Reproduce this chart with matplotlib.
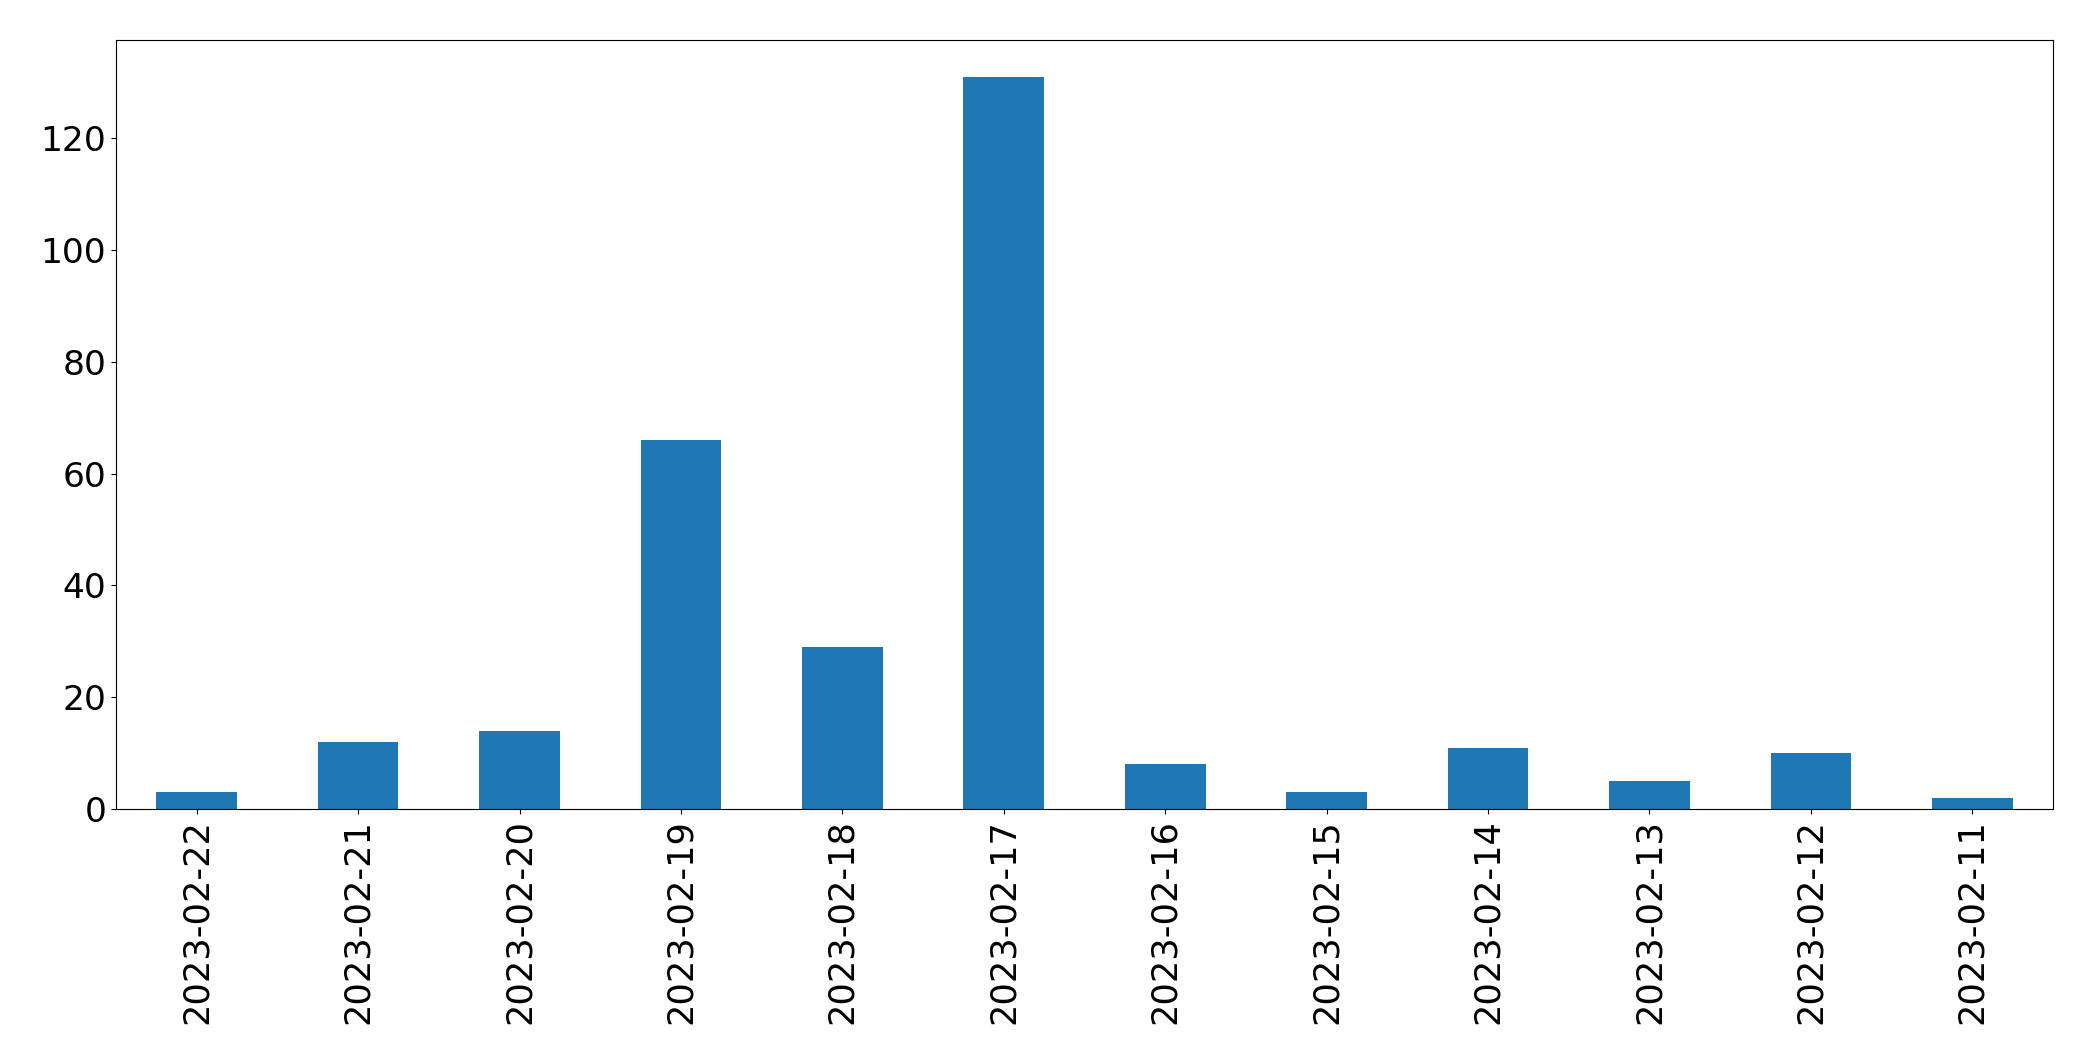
import matplotlib
matplotlib.use('Agg')
import matplotlib.pyplot as plt
import pandas as pd

# fechas y conteos
dates = ['2023-02-22', '2023-02-21', '2023-02-20', '2023-02-19', '2023-02-18', '2023-02-17',
         '2023-02-16', '2023-02-15', '2023-02-14', '2023-02-13', '2023-02-12', '2023-02-11']
counts = [3, 12, 14, 66, 29, 131, 8, 3, 11, 5, 10, 2]

s = pd.Series(counts, index=dates)

fig, ax = plt.subplots(figsize=(20.93, 10.61), dpi=100)
fig.subplots_adjust(left=0.0554, right=0.9809, top=0.9623, bottom=0.2375)

s.plot(kind='bar', ax=ax, color='#1f77b4')

# tamaño de las etiquetas de los ejes
ax.tick_params(axis='x', labelrotation=90, labelsize=25.3)
ax.tick_params(axis='y', labelsize=24.8)

fig.savefig('out.png', dpi=100)
